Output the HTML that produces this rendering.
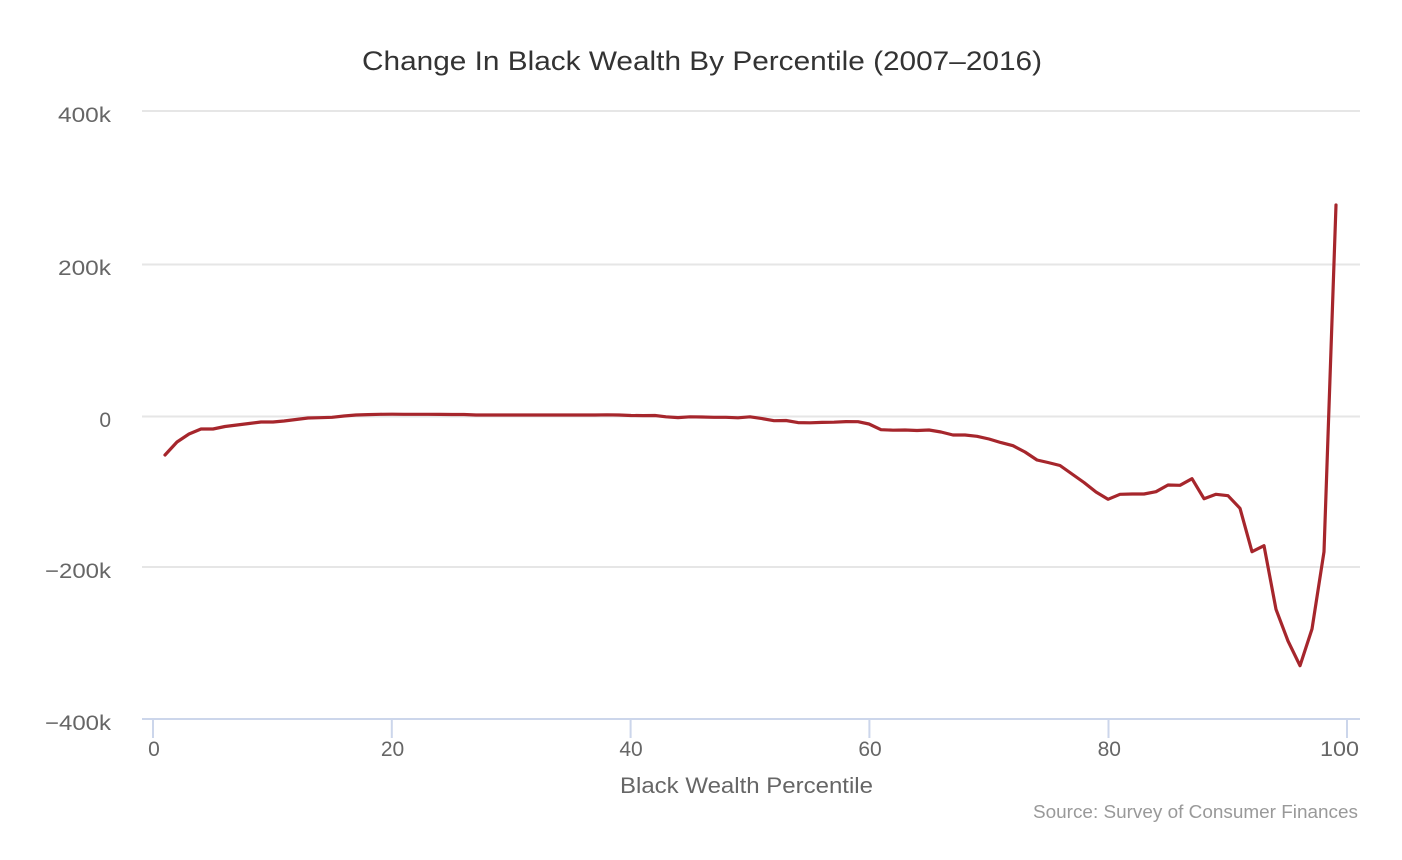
<!DOCTYPE html>
<html>
<head>
<meta charset="utf-8">
<style>
html,body{margin:0;padding:0;background:#fff;}
svg{display:block;}
text{font-family:"Liberation Sans","DejaVu Sans",sans-serif;}
</style>
</head>
<body>
<svg width="1402" height="860" viewBox="0 0 1402 860" xmlns="http://www.w3.org/2000/svg">
<rect x="0" y="0" width="1402" height="860" fill="#ffffff"/>
<!-- title -->
<text x="702" y="70" text-anchor="middle" font-size="27" fill="#333333" textLength="680" lengthAdjust="spacingAndGlyphs">Change In Black Wealth By Percentile (2007–2016)</text>
<!-- gridlines -->
<g stroke="#e6e6e6" stroke-width="2">
<line x1="142" y1="111" x2="1360" y2="111"/>
<line x1="142" y1="264.5" x2="1360" y2="264.5"/>
<line x1="142" y1="416.5" x2="1360" y2="416.5"/>
<line x1="142" y1="567" x2="1360" y2="567"/>
</g>
<!-- x axis -->
<line x1="142" y1="719" x2="1360" y2="719" stroke="#ccd6eb" stroke-width="2"/>
<g stroke="#ccd6eb" stroke-width="2">
<line x1="153" y1="719" x2="153" y2="738"/>
<line x1="391.8" y1="719" x2="391.8" y2="738"/>
<line x1="630.6" y1="719" x2="630.6" y2="738"/>
<line x1="869.4" y1="719" x2="869.4" y2="738"/>
<line x1="1108.5" y1="719" x2="1108.5" y2="738"/>
<line x1="1347" y1="719" x2="1347" y2="738"/>
</g>
<!-- y labels -->
<g font-size="21" fill="#666666" text-anchor="end">
<text x="111" y="122" textLength="53" lengthAdjust="spacingAndGlyphs">400k</text>
<text x="111" y="275" textLength="53" lengthAdjust="spacingAndGlyphs">200k</text>
<text x="111" y="427">0</text>
<text x="111" y="578" textLength="66" lengthAdjust="spacingAndGlyphs">−200k</text>
<text x="111" y="730" textLength="66" lengthAdjust="spacingAndGlyphs">−400k</text>
</g>
<!-- x labels -->
<g font-size="21" fill="#666666" text-anchor="middle">
<text x="154" y="756">0</text>
<text x="392.5" y="756">20</text>
<text x="631" y="756">40</text>
<text x="870" y="756">60</text>
<text x="1109.3" y="756">80</text>
<text x="1339.5" y="756" textLength="39" lengthAdjust="spacingAndGlyphs">100</text>
</g>
<!-- axis title -->
<text x="746.5" y="793" text-anchor="middle" font-size="22" fill="#666666" textLength="253" lengthAdjust="spacingAndGlyphs">Black Wealth Percentile</text>
<!-- credits -->
<text x="1358" y="818" text-anchor="end" font-size="18" fill="#999999" textLength="325" lengthAdjust="spacingAndGlyphs">Source: Survey of Consumer Finances</text>
<!-- series -->
<polyline fill="none" stroke="#a6262c" stroke-width="3.2" stroke-linejoin="round" stroke-linecap="round" points="
165,455 177,442 189,434 201,429 213,429 225,426.5 237,425 249,423.5 261,422 273,422 284,421 296,419.5 308,418 320,417.7 332,417.3 344,416 356,415 368,414.6 380,414.3 392,414.2 404,414.3 416,414.3 428,414.3 440,414.4 452,414.5 464,414.5 476,415 488,415 500,415 511,415 523,415 535,415 547,415 559,415 571,415 583,415 595,415 607,414.8 619,415 631,415.5 643,415.6 655,415.5 666,416.8 678,417.6 690,416.8 702,417 714,417.3 726,417.3 738,417.8 750,416.8 762,418.6 774,420.7 786,420.5 798,422.6 810,422.8 822,422.4 834,422.2 846,421.6 858,421.7 869,424 881,429.7 893,430.2 905,430 917,430.5 929,430 941,432 953,435 965,435 977,436.3 989,439 1001,442.6 1013,445.7 1025,452 1037,460 1048,462.5 1060,465.5 1072,474 1084,482.5 1096,492 1108,499.3 1120,494.3 1132,494 1144,494 1156,491.7 1168,485 1180,485.3 1192,478.7 1204,498.7 1216,494.3 1228,495.7 1240,508.3 1252,551.7 1264,545.7 1276,609.3 1288,641 1300,665.7 1312,629 1324,551.7 1336,205"/>
</svg>
</body>
</html>
